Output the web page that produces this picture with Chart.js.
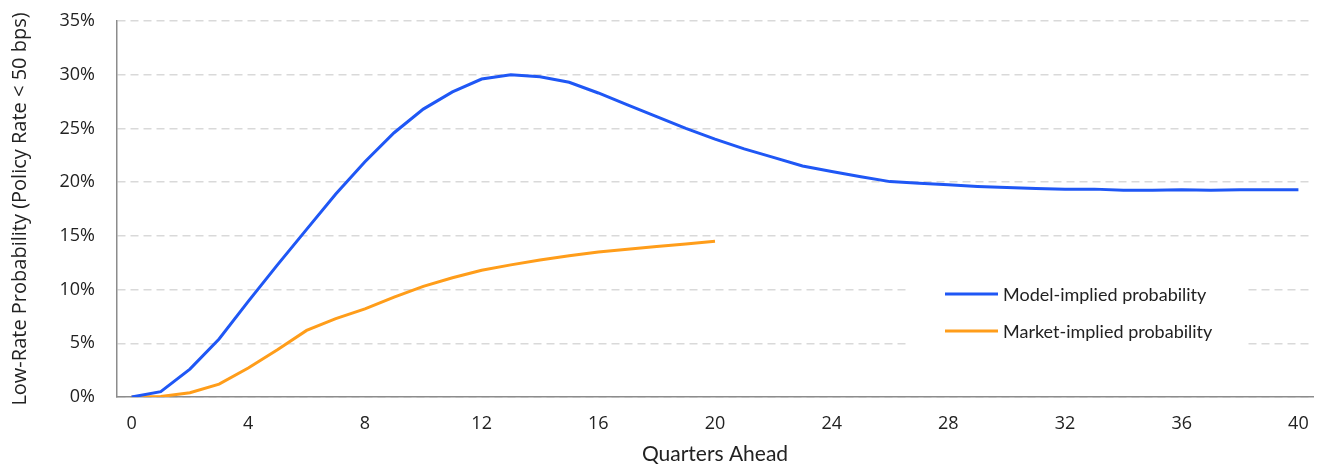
<!DOCTYPE html>
<html>
<head>
<meta charset="utf-8">
<script src="https://cdn.jsdelivr.net/npm/chart.js@4.4.1/dist/chart.umd.min.js"></script>
<style>
  html, body { margin: 0; padding: 0; background: #fff; }
  #wrap { position: relative; width: 1322px; height: 467px; }
</style>
</head>
<body>
<div id="wrap"><canvas id="chart" width="1322" height="467"></canvas></div>
<script>
// Quarters ahead (0..40)
const quarters = ['0','1','2','3','4','5','6','7','8','9','10','11','12','13','14','15','16','17','18','19','20',
                  '21','22','23','24','25','26','27','28','29','30','31','32','33','34','35','36','37','38','39','40'];

// Model-implied probability (%)
const modelValues = [0, 0.5, 2.6, 5.4, 8.9, 12.3, 15.6, 18.9, 21.9, 24.6, 26.8, 28.4, 29.6, 30.0, 29.8, 29.3, 28.3, 27.2, 26.1, 25.0,
                     24.0, 23.1, 22.3, 21.5, 21.0, 20.5, 20.05, 19.9, 19.75, 19.6, 19.5, 19.4, 19.35, 19.35, 19.25, 19.25, 19.3, 19.25, 19.3, 19.3, 19.3];

// Market-implied probability (%), only to 20 quarters
const marketValues = [0, 0.05, 0.4, 1.2, 2.7, 4.4, 6.2, 7.3, 8.2, 9.3, 10.3, 11.1, 11.8, 12.3, 12.75, 13.15, 13.5, 13.75, 14.0, 14.25, 14.5];

const yTicks = [0, 5, 10, 15, 20, 25, 30, 35];

const blue = '#1f57f5';
const orange = '#ff9d1a';
const axisGray = '#8c8c8c';
const textColor = '#222';

// Legend drawn inside the plot, with a white box behind it
const insideLegend = {
    id: 'insideLegend',
    beforeDatasetsDraw(chart) {
        const ctx = chart.ctx;
        ctx.save();
        ctx.fillStyle = '#fff';
        ctx.fillRect(910, 268, 334, 84);
        ctx.restore();
    },
    afterDatasetsDraw(chart) {
        const ctx = chart.ctx;
        ctx.save();
        ctx.font = '18px Lato';
        ctx.textBaseline = 'middle';
        chart.data.datasets.forEach((ds, i) => {
            const y = 294 + i * 37;
            ctx.strokeStyle = ds.borderColor;
            ctx.lineWidth = 3;
            ctx.beginPath();
            ctx.moveTo(945, y);
            ctx.lineTo(998, y);
            ctx.stroke();
            ctx.fillStyle = textColor;
            ctx.fillText(ds.label, 1003, y + 1);
        });
        ctx.restore();
    }
};

function drawChart() {
    const ctx = document.getElementById('chart').getContext('2d');
    new Chart(ctx, {
        type: 'line',
        data: {
            labels: quarters,
            datasets: [
                {
                    label: 'Model-implied probability',
                    data: modelValues,
                    borderColor: blue,
                    backgroundColor: blue,
                    borderWidth: 3,
                    pointRadius: 0,
                    tension: 0
                },
                {
                    label: 'Market-implied probability',
                    data: marketValues,
                    borderColor: orange,
                    backgroundColor: orange,
                    borderWidth: 3,
                    pointRadius: 0,
                    tension: 0
                }
            ]
        },
        options: {
            responsive: false,
            animation: false,
            layout: { padding: { top: 21, right: 9, left: 0, bottom: 0 } },
            plugins: {
                legend: { display: false },
                tooltip: { enabled: false }
            },
            scales: {
                x: {
                    type: 'category',
                    offset: true,
                    grid: { display: false, drawTicks: false },
                    border: { display: true, color: axisGray, width: 1.5 },
                    ticks: {
                        autoSkip: false,
                        maxRotation: 0,
                        padding: 16,
                        color: textColor,
                        font: { family: '"Open Sans"', size: 18 },
                        callback: function(val, i) {
                            return i % 4 === 0 ? quarters[i] : '';
                        }
                    },
                    title: {
                        display: true,
                        text: 'Quarters Ahead',
                        color: textColor,
                        font: { family: 'Lato', size: 21 },
                        padding: { top: 0, bottom: 0 }
                    },
                    afterFit: function(scale) {
                        scale.height = 70;
                        scale.paddingLeft = 0;
                        scale.paddingRight = 0;
                    }
                },
                y: {
                    min: 0,
                    max: 35,
                    afterBuildTicks: function(scale) {
                        scale.ticks = yTicks.map(v => ({ value: v }));
                    },
                    grid: {
                        color: '#d9d9d9',
                        lineWidth: 1.5,
                        drawTicks: false
                    },
                    border: { display: true, color: axisGray, width: 1.5, dash: [8, 5] },
                    ticks: {
                        padding: 22,
                        color: textColor,
                        font: { family: '"Open Sans"', size: 18 },
                        callback: v => v + '%'
                    },
                    title: {
                        display: true,
                        text: 'Low-Rate Probability (Policy Rate < 50 bps)',
                        color: textColor,
                        font: { family: '"Open Sans"', size: 20 },
                        padding: { top: 8, bottom: 0 }
                    },
                    afterFit: function(scale) {
                        scale.width = 117;
                        scale.paddingTop = 0;
                        scale.paddingBottom = 0;
                    }
                }
            }
        },
        plugins: [insideLegend]
    });
}

Promise.all([
    document.fonts.load('18px "Open Sans"'),
    document.fonts.load('18px Lato')
]).then(drawChart, drawChart);
</script>
</body>
</html>
